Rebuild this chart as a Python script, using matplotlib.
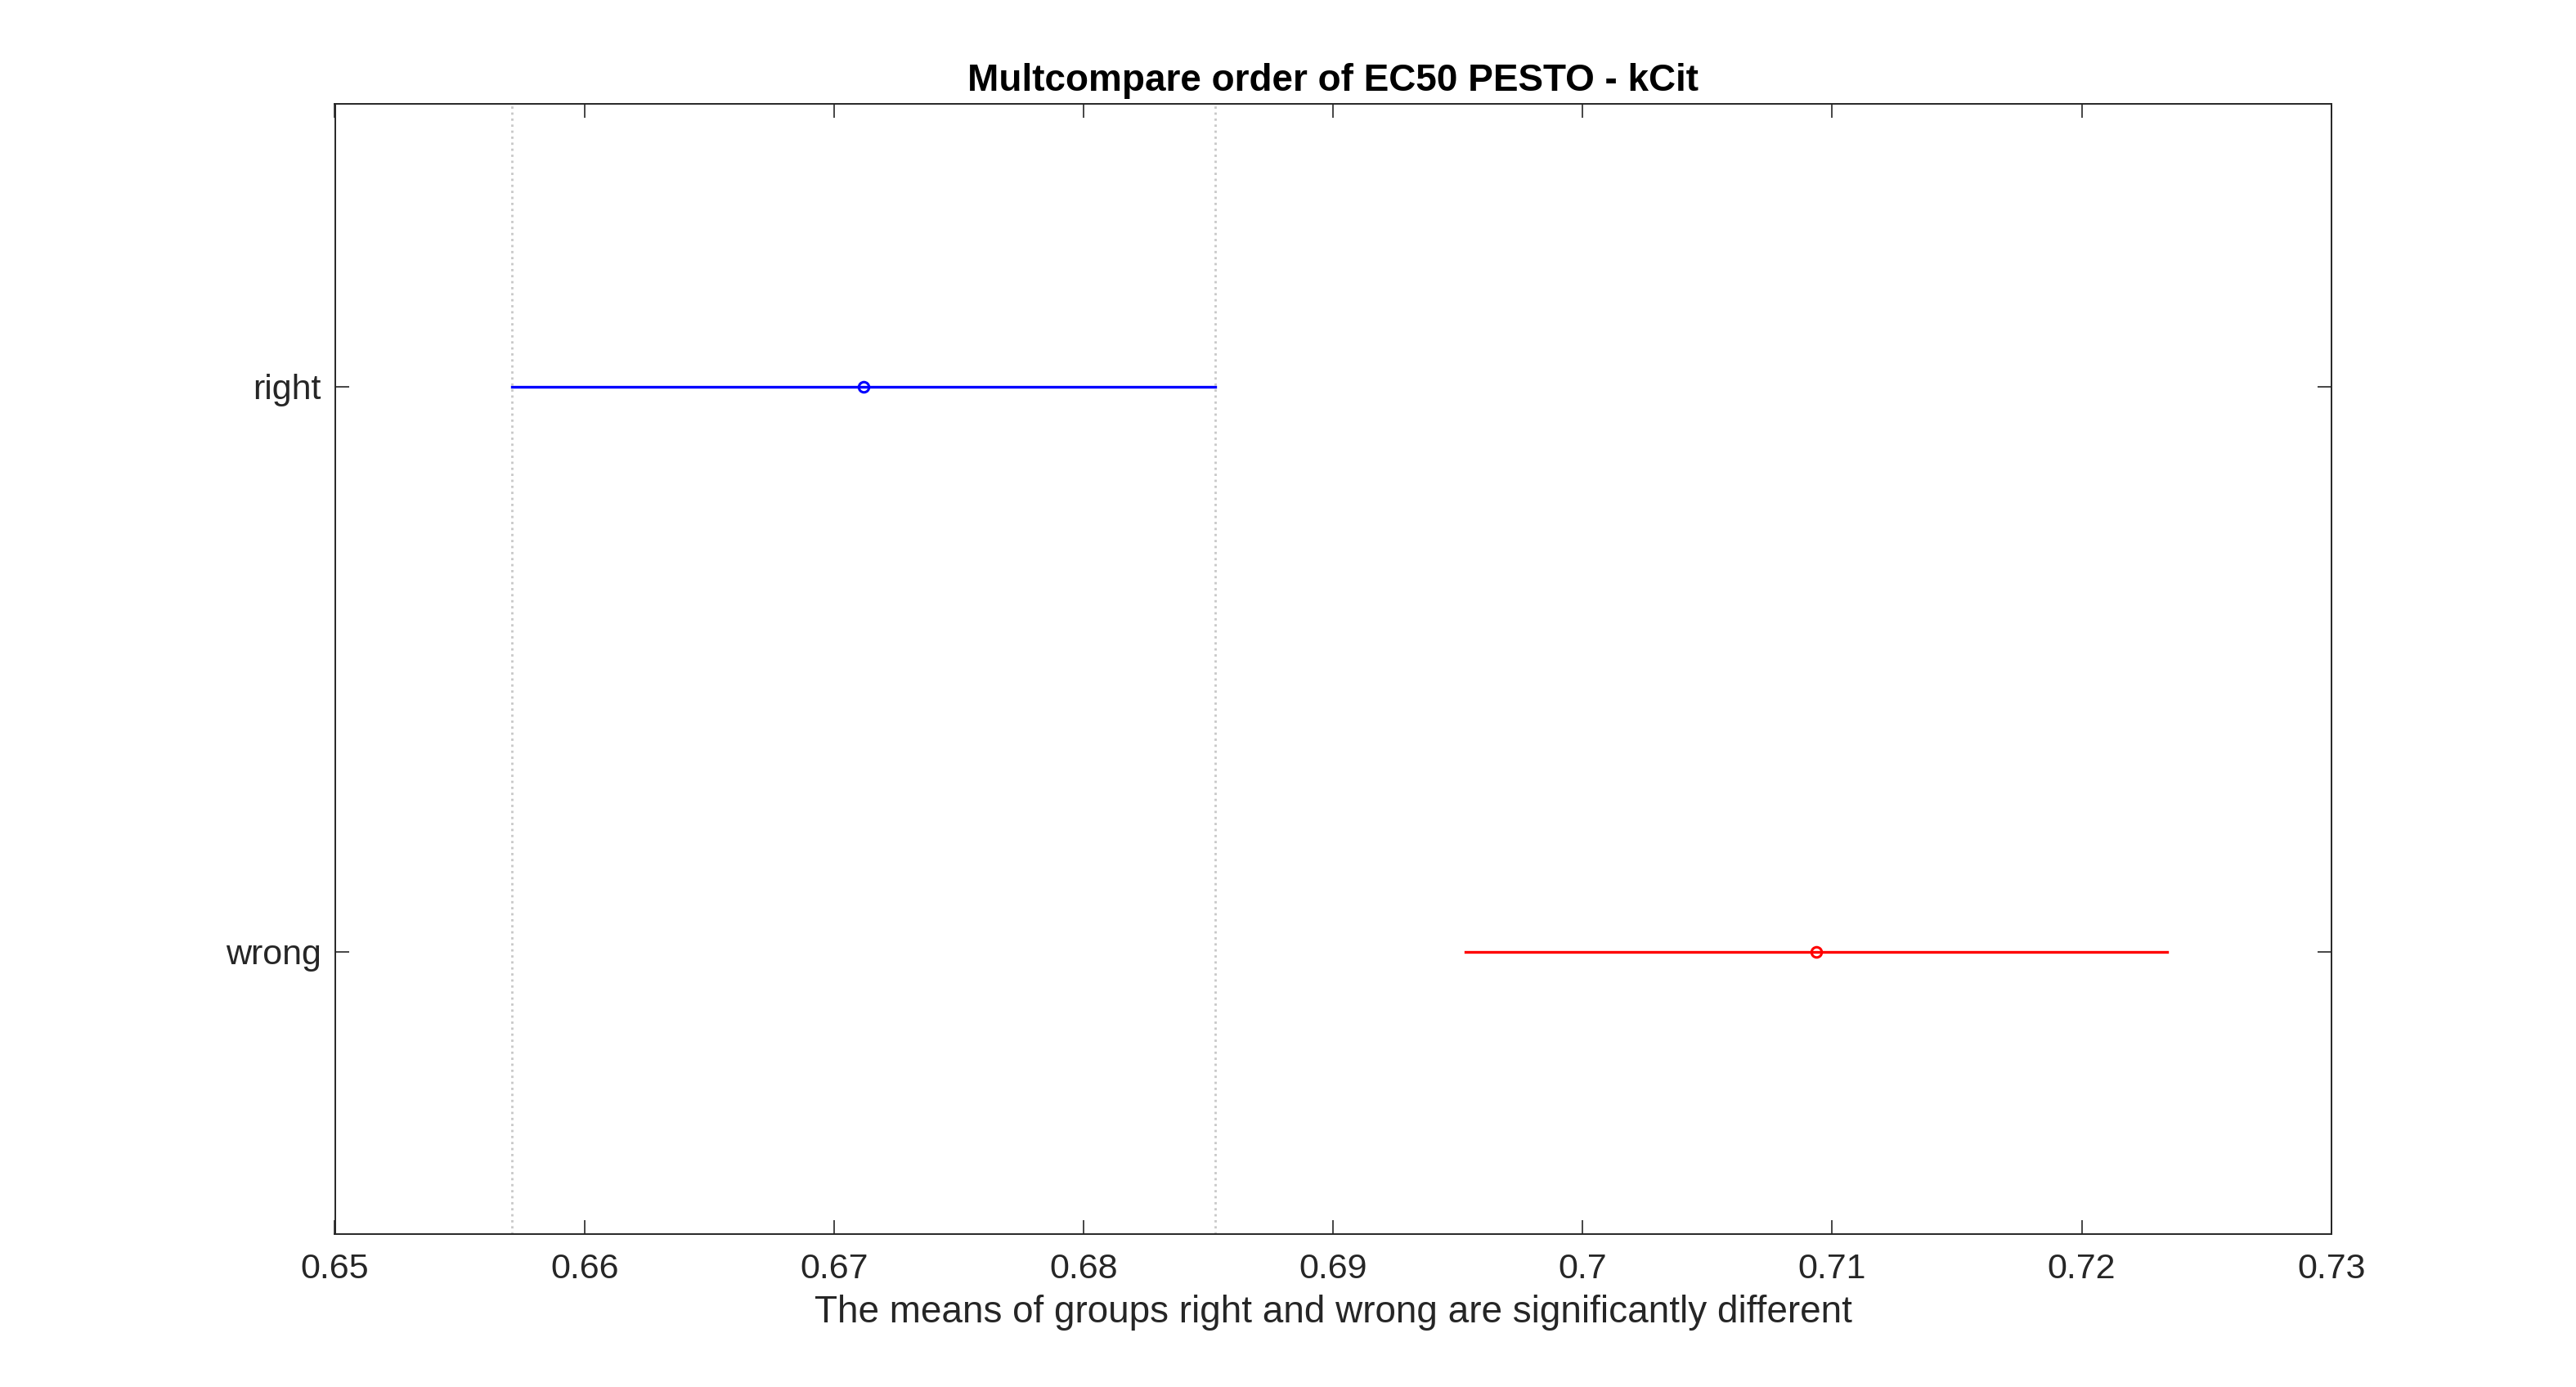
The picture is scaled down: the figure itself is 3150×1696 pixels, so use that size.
import matplotlib
matplotlib.use("Agg")
from matplotlib import pyplot as plt

plt.rcParams['font.family'] = ['Liberation Sans', 'DejaVu Sans']

# group estimates and comparison intervals
groups = ['right', 'wrong']
means = [0.6712, 0.70935]
lower = [0.65710, 0.69530]
upper = [0.68528, 0.72343]
colors = ['#0000ff', '#ff0000']

xticks = [0.65, 0.66, 0.67, 0.68, 0.69, 0.70, 0.71, 0.72, 0.73]
xtick_labels = ['0.65', '0.66', '0.67', '0.68', '0.69', '0.7', '0.71', '0.72', '0.73']

title = 'Multcompare order of EC50 PESTO - kCit'
xlabel = 'The means of groups right and wrong are significantly different'

fig = plt.figure(figsize=(15.75, 8.48), dpi=200)
ax = fig.add_axes([0.13, 0.11, 0.775, 0.815])

dark = '#262626'
ypos = list(range(1, len(groups) + 1))

# dotted reference lines at the interval of the selected group
for xv in (lower[0], upper[0]):
    ax.axvline(xv, color='#c8c8c8', linestyle=':', linewidth=1.0, zorder=1)

for y, m, lo, hi, c in zip(ypos, means, lower, upper, colors):
    ax.plot([lo, hi], [y, y], color=c, linewidth=1.2, zorder=2)
    ax.plot(m, y, marker='o', markersize=4.5, markerfacecolor='none',
            markeredgecolor=c, markeredgewidth=1.1, zorder=3)

ax.set_xlim(0.65, 0.73)
ax.set_ylim(len(groups) + 0.5, 0.5)
ax.set_xticks(xticks)
ax.set_xticklabels(xtick_labels)
ax.set_yticks(ypos)
ax.set_yticklabels(groups)

ax.tick_params(direction='in', length=6, width=0.6, color=dark,
               labelcolor=dark, labelsize=15.5, top=True, right=True)
ax.tick_params(axis='x', pad=8)
ax.tick_params(axis='y', pad=6)
for sp in ax.spines.values():
    sp.set_color(dark)
    sp.set_linewidth(0.7)

ax.set_title(title, fontsize=16.5, fontweight='bold', color='black', pad=6)
ax.set_xlabel(xlabel, fontsize=16.5, color=dark, labelpad=4)

fig.savefig('out.png', dpi=200, facecolor='white')
